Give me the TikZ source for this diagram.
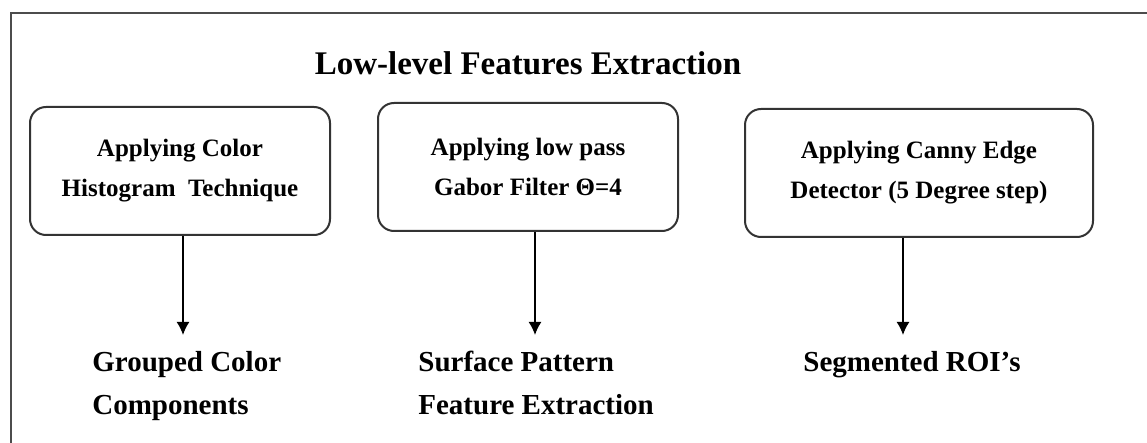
\documentclass[tikz,border=0pt]{standalone}
\usepackage{fontspec}
\setmainfont{Liberation Serif}
\usetikzlibrary{arrows.meta}

\begin{document}
\begin{tikzpicture}[x=0.5pt,y=-0.5pt,
  stage/.style={draw=black!80,line width=1pt,rounded corners=8pt,align=center,
    font=\bfseries\fontsize{12.5}{20}\selectfont,minimum height=64pt,inner sep=0pt},
  result/.style={anchor=north west,align=left,inner sep=0pt,
    font=\bfseries\fontsize{14.5}{21.5}\selectfont},
  flow/.style={-{Latex[length=6.5pt,width=6.5pt]},line width=0.8pt}]
  \useasboundingbox (0,0) rectangle (1147,443);
  % frame: only the top and left edges show
  \draw[black!70,line width=1pt] (1147,13) -- (11,13) -- (11,443);

  \node[font=\bfseries\fontsize{16.5}{20}\selectfont] (title) at (528,63) {Low-level Features Extraction};

  % the three stages
  \node[stage,minimum width=150pt] (color) at (180,171) {Applying Color\\Histogram\ \ Technique};
  \node[stage,minimum width=150pt] (gabor) at (528,167) {Applying low pass\\Gabor Filter Θ=4};
  \node[stage,minimum width=174pt] (canny) at (919,173) {Applying Canny Edge\\Detector (5 Degree step)};

  % what comes out of each
  \node[result] (grouped) at (92,351) {Grouped Color\\Components};
  \node[result] (surface) at (418,351) {Surface Pattern\\Feature Extraction};
  \node[result] (roi) at (803,351) {Segmented ROI’s};

  \coordinate (t1) at (183,335);
  \coordinate (t2) at (535,335);
  \coordinate (t3) at (903,335);
  \draw[flow] (color.south -| t1) -- (t1);
  \draw[flow] (gabor.south -| t2) -- (t2);
  \draw[flow] (canny.south -| t3) -- (t3);
\end{tikzpicture}
\end{document}
